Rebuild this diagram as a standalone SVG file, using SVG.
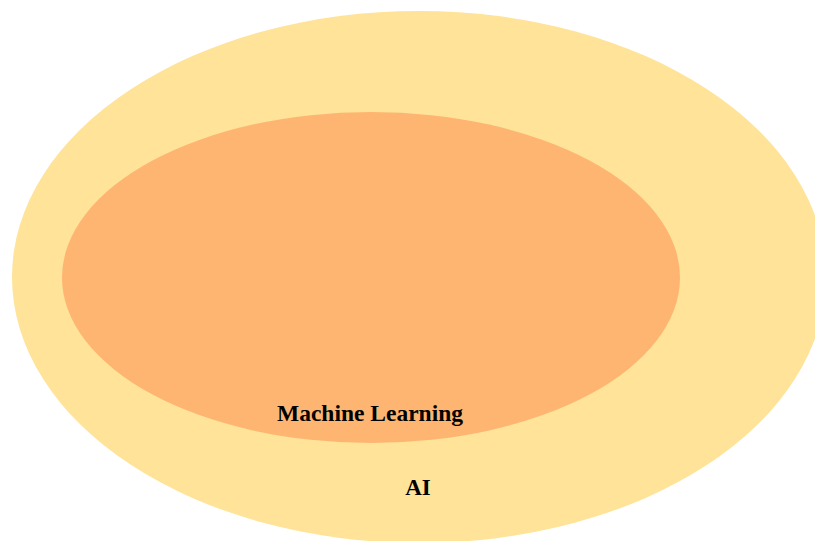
<svg xmlns="http://www.w3.org/2000/svg" width="815" height="541" viewBox="0 0 815 541">
<style>
.lbl{font-family:"Liberation Serif","Times New Roman",serif;font-weight:bold;font-size:23px;fill:#000;text-anchor:middle}
</style>
<rect width="815" height="541" fill="#ffffff"/>
<g id="ai">
<ellipse cx="419" cy="277" rx="407" ry="266" fill="#FEE398"/>
<text class="lbl" x="418" y="495">AI</text>
</g>
<g id="ml">
<ellipse cx="371" cy="277.5" rx="309" ry="165.5" fill="#FEB571"/>
<text class="lbl" x="370" y="421" style="font-size:23.5px">Machine Learning</text>
</g>
<g id="connectors"/>
</svg>
